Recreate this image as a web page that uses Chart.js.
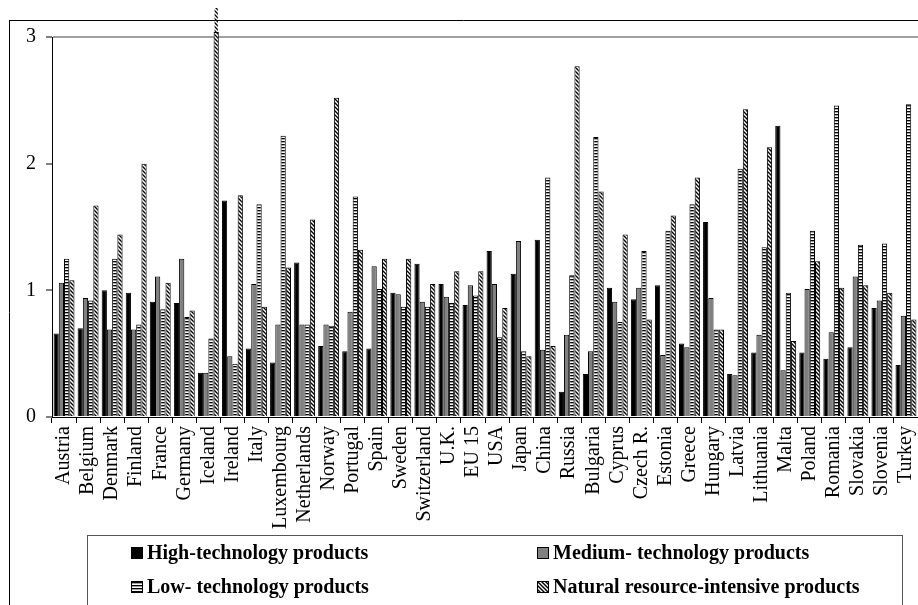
<!DOCTYPE html>
<html>
<head>
<meta charset="utf-8">
<script src="https://cdn.jsdelivr.net/npm/chart.js@4/dist/chart.umd.min.js"></script>
<style>
html,body{margin:0;padding:0;background:#fff;overflow:hidden;}
#c{display:block;}
</style>
</head>
<body>
<canvas id="c" width="918" height="605"></canvas>
<script>
const categories = ['Austria','Belgium','Denmark','Finland','France','Germany','Iceland','Ireland','Italy','Luxembourg','Netherlands','Norway','Portugal','Spain','Sweden','Switzerland','U.K.','EU 15','USA','Japan','China','Russia','Bulgaria','Cyprus','Czech R.','Estonia','Greece','Hungary','Latvia','Lithuania','Malta','Poland','Romania','Slovakia','Slovenia','Turkey'];
const seriesNames = ['High-technology products','Medium- technology products','Low- technology products','Natural resource-intensive products'];
const high    = [0.66,0.70,1.00,0.98,0.91,0.90,0.35,1.71,0.54,0.43,1.22,0.56,0.52,0.54,0.98,1.21,1.05,0.885,1.31,1.13,1.40,0.20,0.34,1.02,0.93,1.04,0.58,1.54,0.34,0.51,2.30,0.51,0.46,0.55,0.86,0.41];
const medium  = [1.06,0.94,0.69,0.69,1.11,1.25,0.35,0.48,1.05,0.73,0.73,0.73,0.83,1.19,0.97,0.91,0.95,1.04,1.05,1.39,0.53,0.65,0.52,0.91,1.02,0.49,0.55,0.94,0.33,0.65,0.37,1.01,0.67,1.11,0.92,0.80];
const low     = [1.25,0.92,1.25,0.73,0.85,0.79,0.62,0.42,1.68,2.22,0.73,0.72,1.74,1.01,0.87,0.87,0.90,0.96,0.63,0.52,1.89,1.12,2.21,0.75,1.31,1.47,1.68,0.69,1.96,1.34,0.98,1.47,2.46,1.36,1.37,2.47];
const natural = [1.08,1.67,1.44,2.00,1.06,0.84,3.04,1.75,0.87,1.18,1.56,2.52,1.32,1.25,1.25,1.05,1.15,1.15,0.86,0.48,0.56,2.77,1.78,1.44,0.77,1.59,1.89,0.69,2.43,2.13,0.60,1.23,1.02,1.04,0.98,0.77];
const yTicks = [0,1,2,3];
const brokenIndex = 6; // Iceland natural-resource bar exceeds the axis

function makeStripePattern(){
  const p = document.createElement('canvas'); p.width = 4; p.height = 3;
  const g = p.getContext('2d');
  g.fillStyle = '#fff'; g.fillRect(0,0,4,3);
  g.fillStyle = '#000'; g.fillRect(0,0,4,1);
  g.fillStyle = '#666'; g.fillRect(0,1,4,0.6);
  return g.createPattern(p,'repeat');
}
function makeDiagPattern(bg){
  const s = 4;
  const p = document.createElement('canvas'); p.width = s; p.height = s;
  const g = p.getContext('2d');
  if (bg){ g.fillStyle = bg; g.fillRect(0,0,s,s); }
  g.strokeStyle = '#000'; g.lineWidth = 1.4;
  g.beginPath();
  g.moveTo(-1,-1); g.lineTo(s+1,s+1);
  g.moveTo(-1,s-1); g.lineTo(1,s+1);
  g.moveTo(s-1,-1); g.lineTo(s+1,1);
  g.stroke();
  return document.createElement('canvas').getContext('2d').createPattern(p,'repeat');
}
const ctx0 = document.getElementById('c').getContext('2d');
const stripe = makeStripePattern();
const diag = makeDiagPattern('#fff');
const diagClear = makeDiagPattern(null);

const frame = {
  id:'frame',
  beforeDraw(chart){
    const c = chart.ctx;
    c.save();
    c.fillStyle = '#fff'; c.fillRect(0,0,chart.width,chart.height);
    c.restore();
  },
  afterDatasetsDraw(chart){
    const c = chart.ctx;
    const el = chart.getDatasetMeta(3).data[brokenIndex];
    if (el){
      const p = el.getProps(['x','y','width'], true);
      c.save();
      c.fillStyle = diagClear;
      c.fillRect(p.x - p.width/2 + 1, 8, p.width - 2, p.y - 8);
      c.restore();
    }
  },
  afterDraw(chart){
    const c = chart.ctx;
    c.save();
    c.strokeStyle = '#000'; c.lineWidth = 1;
    c.beginPath();
    c.moveTo(9, 20.5); c.lineTo(chart.width, 20.5);
    c.moveTo(9.5, 20); c.lineTo(9.5, chart.height);
    c.stroke();
    // legend box
    c.strokeStyle = '#555';
    c.strokeRect(87.5, 535.5, 815, 80);
    const colX = [131, 537];
    const rowY = [553, 587];
    c.font = 'bold 20px "Liberation Serif"';
    c.textBaseline = 'middle';
    c.textAlign = 'left';
    chart.data.datasets.forEach((ds,i)=>{
      const x = colX[i%2], y = rowY[Math.floor(i/2)];
      c.fillStyle = ds.backgroundColor;
      c.fillRect(x, y-6, 12, 12);
      c.strokeStyle = '#000'; c.lineWidth = 1;
      c.strokeRect(x+0.5, y-5.5, 11, 11);
      c.fillStyle = '#000';
      c.fillText(ds.label, x + 16, y + 1);
    });
    c.restore();
  }
};

const mk = (label, data, bg) => ({
  label, data, backgroundColor: bg, borderColor:'#000', borderWidth:1,
  barPercentage:1.0, categoryPercentage:0.87, clip:false
});

new Chart(ctx0, {
  type:'bar',
  data:{
    labels: categories,
    datasets:[
      mk(seriesNames[0], high, '#000'),
      mk(seriesNames[1], medium, '#808080'),
      mk(seriesNames[2], low, stripe),
      mk(seriesNames[3], natural, diag)
    ]
  },
  plugins:[frame],
  options:{
    responsive:false, animation:false, devicePixelRatio:1,
    layout:{padding:{top:37,left:0,right:0,bottom:0}},
    plugins:{legend:{display:false}, tooltip:{enabled:false}},
    scales:{
      x:{
        offset:true,
        grid:{display:true, drawOnChartArea:false, drawTicks:true, tickLength:6, tickColor:'#000', offset:true},
        border:{display:true, color:'#000', width:1},
        ticks:{autoSkip:false, minRotation:90, maxRotation:90, padding:3, color:'#000',
               font:{family:'"Liberation Serif"', size:20}},
        afterFit(s){ s.height = 605 - 417; s.paddingLeft = 0; s.paddingRight = 0; }
      },
      y:{
        min:0, max:3,
        afterBuildTicks(s){ s.ticks = yTicks.map(v=>({value:v})); },
        grid:{color:(c)=> (c.tick && c.tick.value===3) ? '#a0a0a0' : 'rgba(0,0,0,0)', lineWidth:2,
              drawTicks:true, tickLength:6, tickColor:'#000', tickWidth:1},
        border:{display:true, color:'#000', width:1},
        ticks:{padding:10, color:'#000', font:{family:'"Liberation Serif"', size:20}},
        afterFit(s){ s.width = 52; }
      }
    }
  }
});
</script>
</body>
</html>
